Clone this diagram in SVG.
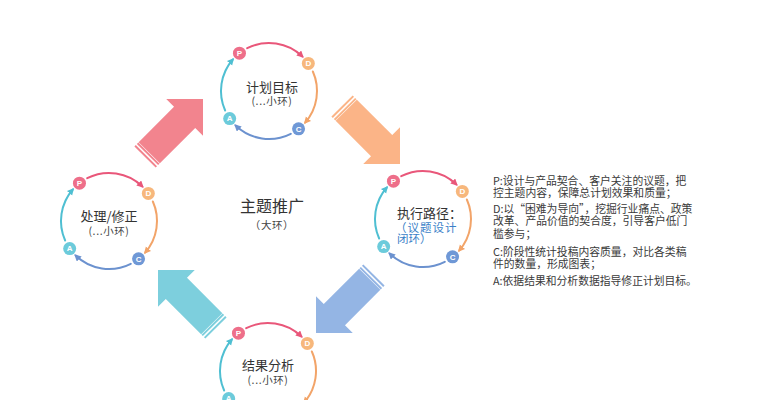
<svg xmlns="http://www.w3.org/2000/svg" width="765" height="400" viewBox="0 0 765 400">
<style>
text{font-family:"Noto Sans CJK SC","Liberation Sans",sans-serif;fill:#333}
.t{font-size:13px;text-anchor:middle}
.s{font-size:10.5px;text-anchor:middle;fill:#444;letter-spacing:0.6px}
.n{font-size:10.8px;fill:#3a3a3a}
.b{font-size:8px;font-weight:bold;fill:#fff;text-anchor:middle;font-family:"Liberation Sans",sans-serif}
.arc{fill:none;stroke-width:2;stroke-linecap:round}
.r{stroke:#E9577A;marker-end:url(#mr)}
.o{stroke:#F2A469;marker-end:url(#mo)}
.u{stroke:#6C92CF;marker-end:url(#mu)}
.c{stroke:#4FBFD2;marker-end:url(#mc)}
</style>
<defs>
<marker id="mr" markerUnits="userSpaceOnUse" markerWidth="8" markerHeight="8" refX="5" refY="3.5" orient="auto"><path d="M0,0 L7,3.5 L0,7 z" fill="#E9577A"/></marker>
<marker id="mo" markerUnits="userSpaceOnUse" markerWidth="8" markerHeight="8" refX="5" refY="3.5" orient="auto"><path d="M0,0 L7,3.5 L0,7 z" fill="#F2A469"/></marker>
<marker id="mu" markerUnits="userSpaceOnUse" markerWidth="8" markerHeight="8" refX="5" refY="3.5" orient="auto"><path d="M0,0 L7,3.5 L0,7 z" fill="#6C92CF"/></marker>
<marker id="mc" markerUnits="userSpaceOnUse" markerWidth="8" markerHeight="8" refX="5" refY="3.5" orient="auto"><path d="M0,0 L7,3.5 L0,7 z" fill="#4FBFD2"/></marker>
<g id="ring">
<path class="arc r" d="M-21.79,-42.77 A48,48 0 0 1 33.35,-34.53"/>
<path class="arc o" d="M43.85,-19.52 A48,48 0 0 1 36.23,31.49"/>
<path class="arc u" d="M21.79,42.77 A48,48 0 0 1 -33.35,34.53"/>
<path class="arc c" d="M-43.85,19.52 A48,48 0 0 1 -36.23,-31.49"/>
<circle cx="-29.55" cy="-37.83" r="6.5" fill="#EE6F8A"/><text class="b" x="-29.55" y="-35">P</text>
<circle cx="39.32" cy="-27.53" r="6.5" fill="#F7B77C"/><text class="b" x="39.32" y="-24.7">D</text>
<circle cx="29.55" cy="37.83" r="6.5" fill="#6F98D6"/><text class="b" x="29.55" y="40.7">C</text>
<circle cx="-39.32" cy="27.53" r="6.5" fill="#6CCBDB"/><text class="b" x="-39.32" y="30.4">A</text>
</g>
<g id="bigarrow">
<polygon points="0,0 -26,-26 -26,-15 -76,-15 -76,15 -26,15 -26,26"/>
<rect x="-78.5" y="-15" width="2" height="30"/>
<rect x="-82" y="-15" width="2" height="30"/>
</g>
</defs>
<rect width="765" height="400" fill="#fff"/>
<g id="connectors">
<use href="#bigarrow" transform="translate(203,99) rotate(-45)" fill="#F2848E"/>
<use href="#bigarrow" transform="translate(400,164) rotate(45)" fill="#FBB487"/>
<use href="#bigarrow" transform="translate(316,333) rotate(135)" fill="#94B5E4"/>
<use href="#bigarrow" transform="translate(158,270) rotate(-135)" fill="#7DCFDD"/>
</g>
<g id="center">
<text x="272" y="212" style="font-size:16px;text-anchor:middle">主题推广</text>
<text x="272" y="229" class="s">（大环）</text>
</g>
<g id="plan" transform="translate(269,91)">
<use href="#ring"/>
<text class="t" x="3" y="1">计划目标</text>
<text class="s" x="3" y="14">(...小环)</text>
</g>
<g id="fix" transform="translate(109,221)">
<use href="#ring"/>
<text class="t" x="0" y="0">处理/修正</text>
<text class="s" x="0" y="14">(...小环)</text>
</g>
<g id="execute" transform="translate(423,219)">
<use href="#ring"/>
<text x="-26" y="-1" style="font-size:13px">执行路径：</text>
<text x="-28" y="12.5" style="font-size:11.5px;fill:#3a7fc8;letter-spacing:1px">（议题设计</text>
<text x="-26" y="24" style="font-size:11.5px;fill:#3a7fc8">闭环）</text>
</g>
<g id="result" transform="translate(268,371)">
<use href="#ring"/>
<text class="t" x="0" y="-1">结果分析</text>
<text class="s" x="0" y="13">(...小环)</text>
</g>
<g id="notes">
<text class="n" x="493" y="185">P:设计与产品契合、客户关注的议题，把</text>
<text class="n" x="493" y="197">控主题内容，保障总计划效果和质量；</text>
<text class="n" x="493" y="213">D:以“困难为导向”，挖掘行业痛点、政策</text>
<text class="n" x="493" y="225">改革、产品价值的契合度，引导客户低门</text>
<text class="n" x="493" y="238">槛参与；</text>
<text class="n" x="493" y="256">C:阶段性统计投稿内容质量，对比各类稿</text>
<text class="n" x="493" y="268">件的数量，形成图表；</text>
<text class="n" x="493" y="285">A:依据结果和分析数据指导修正计划目标。</text>
</g>
</svg>
